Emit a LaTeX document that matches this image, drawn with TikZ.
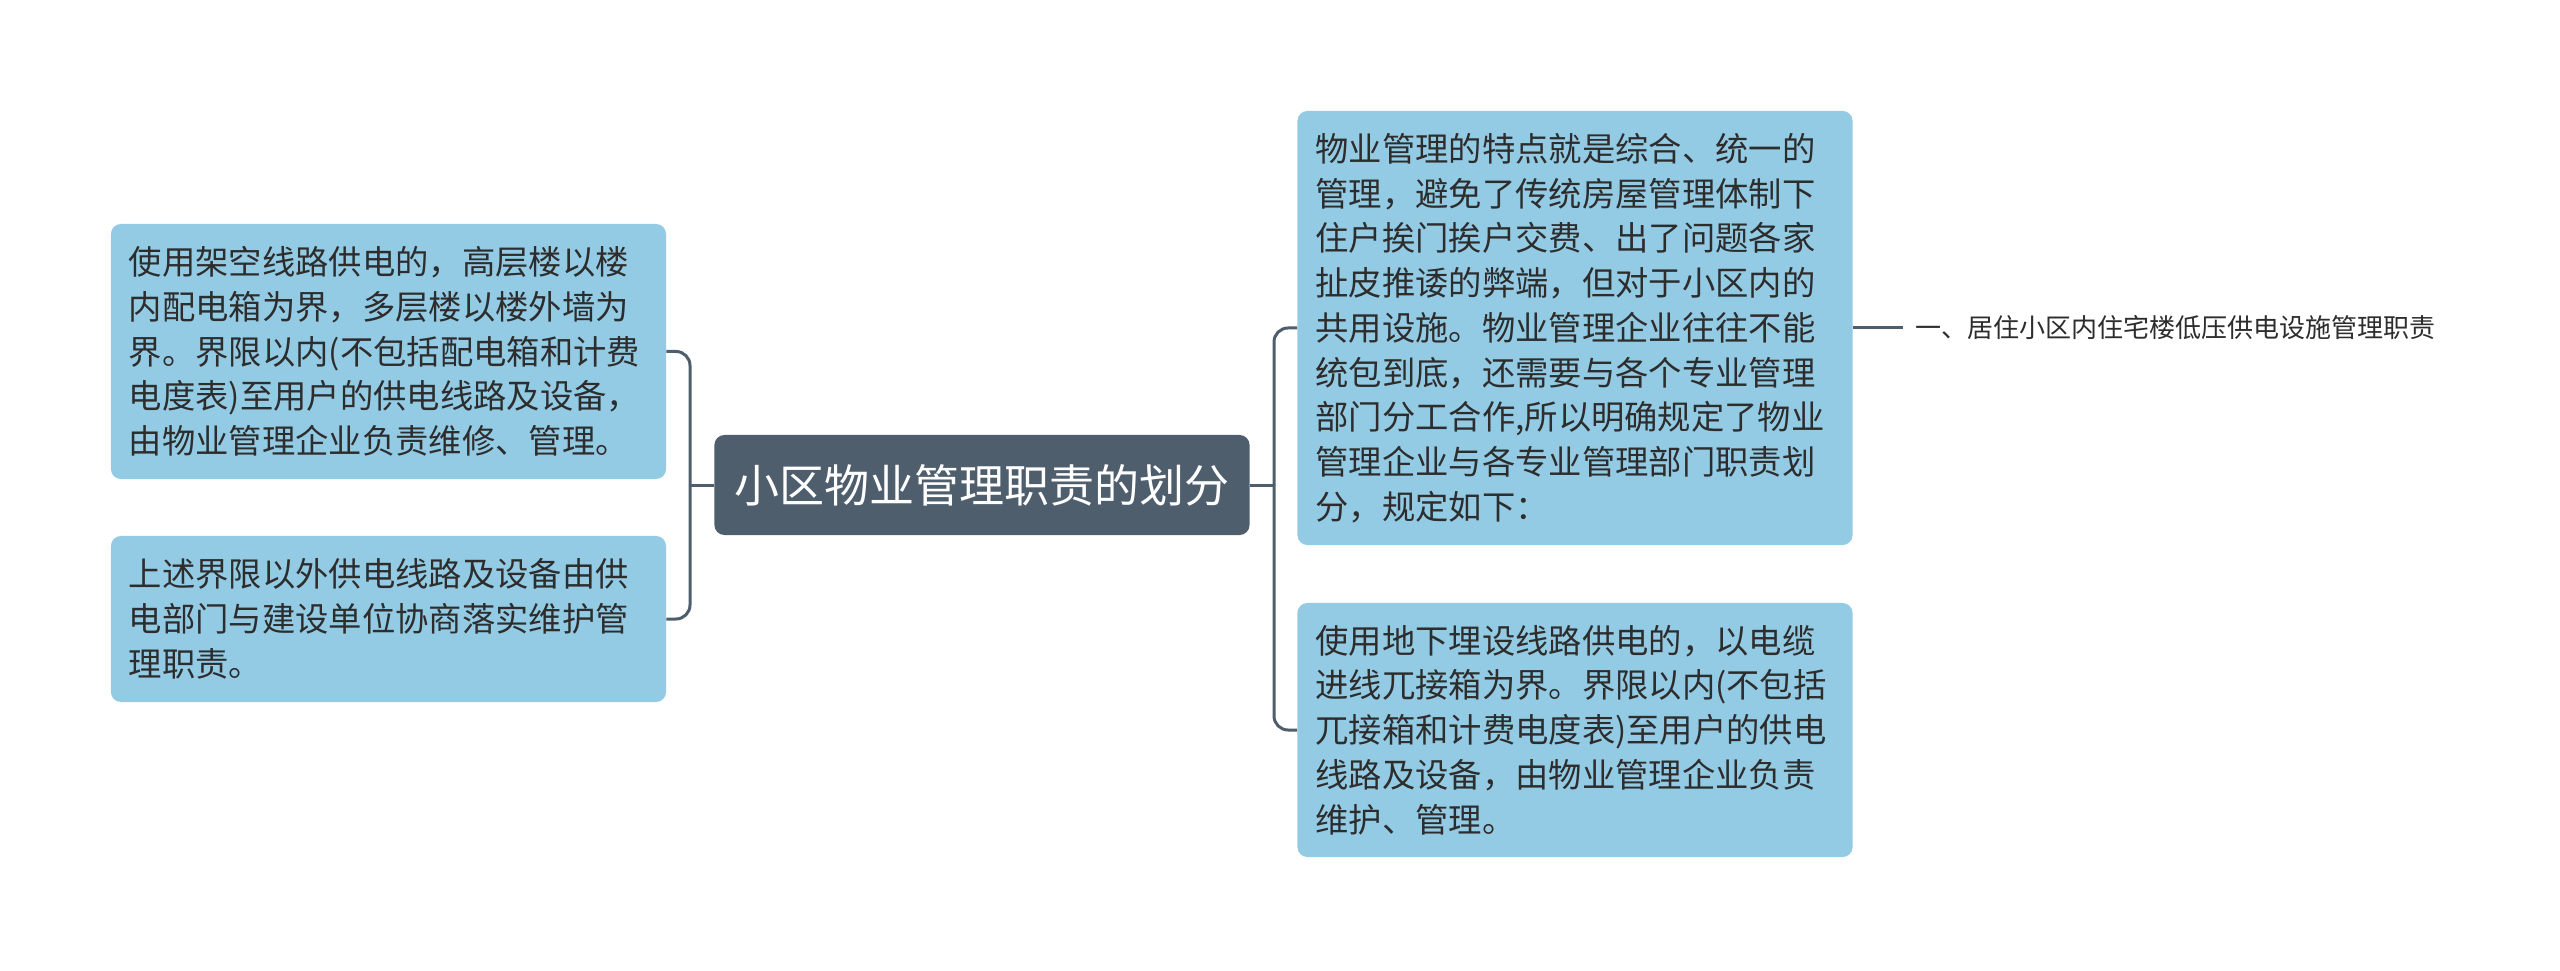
\documentclass[tikz,border=0pt]{standalone}
\usepackage{fontspec}
\setmainfont{Noto Sans CJK SC}
\usepackage{tikz}
\usetikzlibrary{positioning}
\definecolor{topicblue}{RGB}{148,203,228}
\definecolor{mindslate}{RGB}{79,94,109}
\definecolor{inktext}{RGB}{45,45,45}

\begin{document}
\begin{tikzpicture}[x=0.025cm,y=-0.025cm,
    topicbox/.style={rectangle,rounded corners=0.25cm,fill=topicblue,text=inktext,
        minimum width=13.875cm,inner xsep=0.45cm,text width=12.975cm,align=left,
        font=\fontsize{23.7pt}{31.8pt}\selectfont},
    rootbox/.style={rectangle,rounded corners=0.25cm,fill=mindslate,text=white,
        minimum width=13.375cm,minimum height=2.5cm,inner xsep=0.2cm,
        font=\fontsize{32pt}{38pt}\selectfont},
    leaftext/.style={inner xsep=0.3cm,text=inktext,font=\fontsize{18.5pt}{22pt}\selectfont},
    link/.style={draw=mindslate,line width=0.075cm,rounded corners=0.35cm}]
    \useasboundingbox (0,0) rectangle (2560,971);

    % Tema centrale
    \node[rootbox] (root) at (982,485) {小区物业管理职责的划分};

    % Lato sinistro
    \node[topicbox,minimum height=6.375cm] (l1) at (388.5,351.5) {使用架空线路供电的，高层楼以楼\\
        内配电箱为界，多层楼以楼外墙为\\
        界。界限以内(不包括配电箱和计费\\
        电度表)至用户的供电线路及设备，\\
        由物业管理企业负责维修、管理。};
    \node[topicbox,minimum height=4.15cm] (l2) at (388.5,619) {上述界限以外供电线路及设备由供\\
        电部门与建设单位协商落实维护管\\
        理职责。};

    % Lato destro
    \node[topicbox,minimum height=10.85cm] (r1) at (1575,328) {物业管理的特点就是综合、统一的\\
        管理，避免了传统房屋管理体制下\\
        住户挨门挨户交费、出了问题各家\\
        扯皮推诿的弊端，但对于小区内的\\
        共用设施。物业管理企业往往不能\\
        统包到底，还需要与各个专业管理\\
        部门分工合作,所以明确规定了物业\\
        管理企业与各专业管理部门职责划\\
        分，规定如下：};
    \node[topicbox,minimum height=6.35cm] (r2) at (1575,730) {使用地下埋设线路供电的，以电缆\\
        进线兀接箱为界。界限以内(不包括\\
        兀接箱和计费电度表)至用户的供电\\
        线路及设备，由物业管理企业负责\\
        维护、管理。};
    \node[leaftext,right=1.25cm of r1] (leaf) {一、居住小区内住宅楼低压供电设施管理职责};

    % Collegamenti
    \coordinate (lj) at (690,485);
    \coordinate (rj) at (1274,485);
    \draw[link] (root.west) -- (lj);
    \draw[link] (lj) |- (l1.east);
    \draw[link] (lj) |- (l2.east);
    \draw[link] (root.east) -- (rj);
    \draw[link] (rj) |- (r1.west);
    \draw[link] (rj) |- (r2.west);
    \draw[link] (r1.east) -- (leaf.west);
\end{tikzpicture}
\end{document}
